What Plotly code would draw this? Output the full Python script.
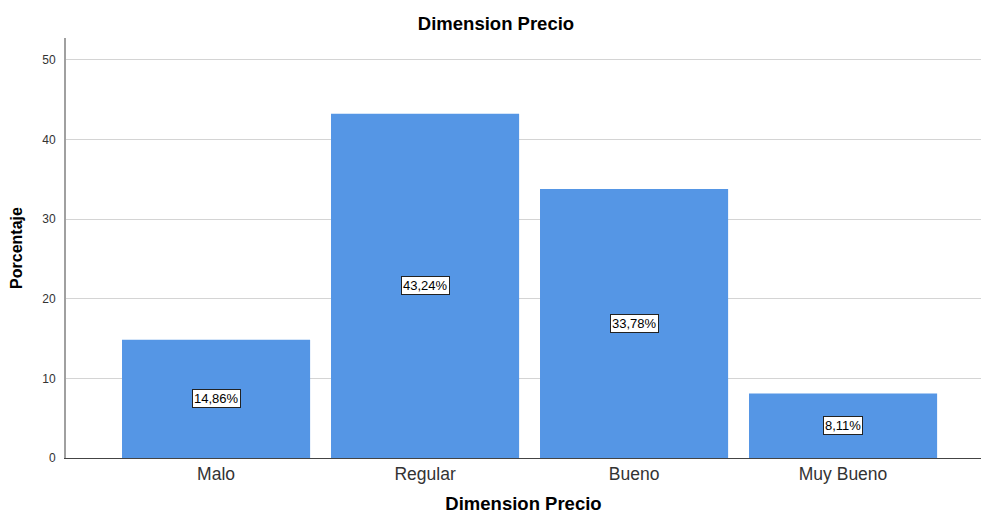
import plotly.graph_objects as go

categories = ["Malo", "Regular", "Bueno", "Muy Bueno"]
values = [14.86, 43.24, 33.78, 8.11]
labels = ["14,86%", "43,24%", "33,78%", "8,11%"]
y_ticks = [0, 10, 20, 30, 40, 50]

font_family = "Liberation Sans, Arial, sans-serif"

W, H = 981, 516

fig = go.Figure()
fig.add_trace(go.Bar(
    x=categories, y=values,
    marker=dict(color="#5596E5", line=dict(width=0)),
    hoverinfo="skip",
))

for c, v, t in zip(categories, values, labels):
    fig.add_annotation(
        x=c, y=v / 2, text=t, showarrow=False,
        font=dict(family=font_family, size=13, color="black"),
        bgcolor="white", bordercolor="#222222", borderwidth=1, borderpad=1,
    )

fig.update_layout(
    width=W, height=H,
    margin=dict(l=66, r=0, t=38, b=58, pad=0),
    paper_bgcolor="white", plot_bgcolor="white",
    bargap=0.1,
    showlegend=False,
    font=dict(family=font_family, color="#222222"),
    title=dict(text="<b>Dimension Precio</b>", x=496 / W, xanchor="center",
               y=1 - 24 / H, yanchor="middle",
               font=dict(size=18.5, color="black", family=font_family)),
    xaxis=dict(
        range=[-0.718, 3.66],
        showline=True, linecolor="#444444", linewidth=1,
        showgrid=False, ticks="",
        tickfont=dict(size=17.5, color="#333333"),
        title=dict(text="<b>Dimension Precio</b>", standoff=14,
                   font=dict(size=18.5, color="black")),
    ),
    yaxis=dict(
        range=[0, 52.76],
        tickvals=y_ticks,
        showline=True, linecolor="#a0a0a0", linewidth=2,
        showgrid=True, gridcolor="#d4d4d4", gridwidth=1,
        ticks="", zeroline=False, ticklabelstandoff=6,
        tickfont=dict(size=12, color="#333333"),
        title=dict(text="<b>Porcentaje</b>", standoff=16,
                   font=dict(size=16, color="black")),
    ),
)

fig.write_html(
    "out.html",
    config={"displayModeBar": False, "staticPlot": True},
    post_script="document.body.style.margin='0';document.body.style.overflow='hidden';",
)
